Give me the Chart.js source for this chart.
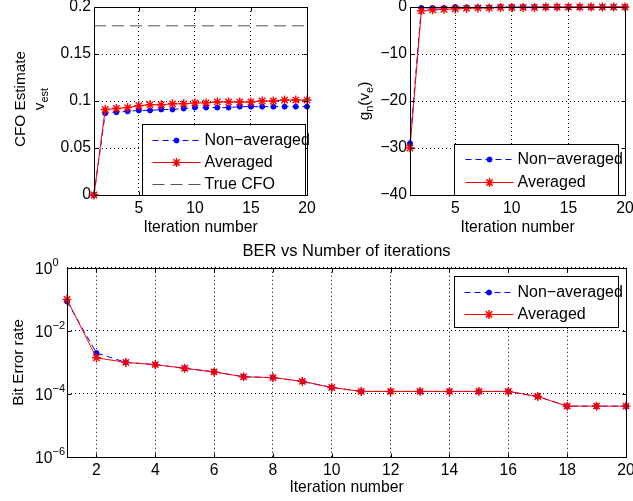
<!DOCTYPE html>
<html>
<head>
<meta charset="utf-8">
<script src="https://cdn.jsdelivr.net/npm/chart.js@4.4.0/dist/chart.umd.min.js"></script>
<style>
  html, body { margin: 0; padding: 0; background: #fff; overflow: hidden; }
  #fig { position: relative; width: 633px; height: 501px; overflow: hidden; background: #fff; }
  canvas { position: absolute; }
</style>
</head>
<body>
<div id="fig">
  <canvas id="cfo" width="320" height="260" style="left:0;top:-20px"></canvas>
  <canvas id="gn" width="340" height="260" style="left:320px;top:-20px"></canvas>
  <canvas id="ber" width="660" height="271" style="left:0;top:230px"></canvas>
</div>
<script>
// data
const iterations = [1, 2, 3, 4, 5, 6, 7, 8, 9, 10, 11, 12, 13, 14, 15, 16, 17, 18, 19, 20];

const cfoNonAvg = [0, 0.087, 0.088, 0.089, 0.090, 0.090, 0.091, 0.091, 0.092, 0.093,
                   0.093, 0.093, 0.093, 0.094, 0.094, 0.094, 0.094, 0.094, 0.094, 0.094];
const cfoAvg    = [0, 0.091, 0.092, 0.093, 0.095, 0.096, 0.096, 0.097, 0.097, 0.098,
                   0.098, 0.099, 0.099, 0.099, 0.099, 0.100, 0.100, 0.101, 0.101, 0.101];
const trueCfoX = [1, 20];
const trueCfoY = [0.18, 0.18];

const gNonAvg = [-29, -0.2, -0.2, -0.2, 0, -0.1, -0.1, -0.1, 0, 0,
                 0, 0, 0, 0, 0, 0, 0, 0, 0, 0];
const gAvg    = [-30, -0.8, -0.6, -0.5, -0.4, -0.3, -0.2, -0.2, -0.1, -0.1,
                 -0.1, -0.1, 0, 0, 0, 0, 0, 0, 0, 0];

const berNonAvg = [0.085, 2.0e-3, 1.0e-3, 8.5e-4, 6.5e-4, 5.0e-4, 3.5e-4, 3.3e-4, 2.5e-4, 1.6e-4,
                   1.2e-4, 1.2e-4, 1.2e-4, 1.2e-4, 1.2e-4, 1.2e-4, 8.3e-5, 4.1e-5, 4.1e-5, 4.1e-5];
const berAvg    = [0.1, 1.4e-3, 1.0e-3, 8.5e-4, 6.5e-4, 5.0e-4, 3.5e-4, 3.3e-4, 2.5e-4, 1.6e-4,
                   1.2e-4, 1.2e-4, 1.2e-4, 1.2e-4, 1.2e-4, 1.2e-4, 8.3e-5, 4.1e-5, 4.1e-5, 4.1e-5];

const xTicksTop = [5, 10, 15, 20];
const xTicksBer = [2, 4, 6, 8, 10, 12, 14, 16, 18, 20];
const yTicksCfo = [0, 0.05, 0.1, 0.15, 0.2];
const yTicksGn = [-40, -30, -20, -10, 0];
const yTicksBer = [1e-6, 1e-4, 1e-2, 1];

const FONT = "'Liberation Sans', Arial, Helvetica, sans-serif";
Chart.defaults.font.family = FONT;
Chart.defaults.font.size = 15.7;
Chart.defaults.color = '#000';
Chart.defaults.animation = false;

function pts(xs, ys) {
  return ys.map((y, i) => ({ x: xs[i], y: y }));
}

function blueSet(ys) {
  return {
    label: 'Non\u2212averaged', data: pts(iterations, ys),
    borderColor: '#0000ff', backgroundColor: '#0000ff', borderWidth: 1, borderDash: [6, 4],
    pointStyle: 'circle', pointRadius: 2.5, pointBorderWidth: 1, tension: 0, clip: false, order: 2
  };
}
function redSet(ys) {
  return {
    label: 'Averaged', data: pts(iterations, ys),
    borderColor: '#ff0000', backgroundColor: '#ff0000', borderWidth: 1,
    pointStyle: 'star', pointRadius: 4.5, pointBorderWidth: 1.4, tension: 0, clip: false, order: 1
  };
}

function xAxis(tickVals, h, padBottom) {
  return {
    type: 'linear', min: 1, max: 20,
    afterBuildTicks: s => { s.ticks = tickVals.map(v => ({ value: v })); },
    afterFit: s => { s.height = h; },
    grid: { color: '#000', lineWidth: 1, drawTicks: false },
    border: { display: false, dash: [1, 3] },
    ticks: { padding: 4, maxRotation: 0, autoSkip: false },
    title: { display: true, text: 'Iteration number', padding: { top: 0, bottom: padBottom } }
  };
}

// draws the text pieces of a rotated y label, with subscripts
function drawRich(ctx, parts, x, y, size) {
  ctx.save();
  ctx.translate(x, y);
  ctx.rotate(-Math.PI / 2);
  ctx.fillStyle = '#000';
  ctx.textBaseline = 'middle';
  ctx.textAlign = 'left';
  let w = 0;
  parts.forEach(p => {
    ctx.font = (p[1] ? size * 0.72 : size) + 'px ' + FONT;
    w += ctx.measureText(p[0]).width;
  });
  let cx = -w / 2;
  parts.forEach(p => {
    ctx.font = (p[1] ? size * 0.72 : size) + 'px ' + FONT;
    ctx.fillText(p[0], cx, p[1] ? size * 0.32 : 0);
    cx += ctx.measureText(p[0]).width;
  });
  ctx.restore();
}

// matlab look: box, inner ticks, ylabel, log labels, legend
const matlabPlugin = {
  id: 'matlab',
  afterDraw(chart, args, opts) {
    const ctx = chart.ctx;
    const ca = chart.chartArea;
    const L = Math.round(ca.left) + 0.5, R = Math.round(ca.right) + 0.5;
    const T = Math.round(ca.top) + 0.5, B = Math.round(ca.bottom) + 0.5;
    const xs = chart.scales.x, ys = chart.scales.y;
    ctx.save();
    ctx.strokeStyle = '#000';
    ctx.lineWidth = 1;
    ctx.setLineDash([]);
    ctx.beginPath();
    xs.ticks.forEach(t => {
      const px = Math.round(xs.getPixelForValue(t.value)) + 0.5;
      ctx.moveTo(px, B); ctx.lineTo(px, B - 4);
      ctx.moveTo(px, T); ctx.lineTo(px, T + 4);
    });
    ys.ticks.forEach(t => {
      const py = Math.round(ys.getPixelForValue(t.value)) + 0.5;
      ctx.moveTo(L, py); ctx.lineTo(L + 4, py);
      ctx.moveTo(R, py); ctx.lineTo(R - 4, py);
    });
    ctx.stroke();
    ctx.strokeRect(L, T, R - L, B - T);

    // y label lines
    const midY = (ca.top + ca.bottom) / 2;
    (opts.ylabel || []).forEach(line => {
      drawRich(ctx, line.parts, ca.left + line.dx, midY + (line.dy || 0), 15.3);
    });

    // 10^n labels on log axis
    if (opts.logLabels) {
      const big = '15.7px ' + FONT, small = '11px ' + FONT;
      ctx.font = big;
      const w10 = ctx.measureText('10').width;
      ctx.font = small;
      const wExp = ctx.measureText('\u22126').width;
      ys.ticks.forEach(t => {
        const py = ys.getPixelForValue(t.value);
        const e = Math.round(Math.log10(t.value));
        const x0 = ca.left - 2 - w10 - wExp;
        ctx.fillStyle = '#000';
        ctx.textBaseline = 'middle';
        ctx.textAlign = 'left';
        ctx.font = big;
        ctx.fillText('10', x0, py + 2);
        ctx.font = small;
        ctx.fillText(e < 0 ? '\u2212' + (-e) : String(e), x0 + w10, py - 5);
      });
    }

    // legend box
    const lg = opts.legend;
    if (lg) {
      const bx = Math.round(ca.left + lg.x) + 0.5, by = Math.round(ca.top + lg.y) + 0.5;
      ctx.fillStyle = '#fff';
      ctx.fillRect(bx, by, lg.w, lg.h);
      ctx.strokeStyle = '#000';
      ctx.strokeRect(bx, by, lg.w, lg.h);
      lg.rows.forEach((ry, i) => {
        const ds = chart.data.datasets[i];
        const y = by + ry;
        ctx.strokeStyle = ds.borderColor;
        ctx.lineWidth = 1;
        ctx.setLineDash(ds.borderDash || []);
        ctx.beginPath();
        ctx.moveTo(bx + lg.x1, y);
        ctx.lineTo(bx + lg.x2, y);
        ctx.stroke();
        ctx.setLineDash([]);
        if (ds.pointRadius > 0) {
          ctx.fillStyle = ds.backgroundColor;
          ctx.lineWidth = ds.pointBorderWidth;
          Chart.helpers.drawPoint(ctx, { pointStyle: ds.pointStyle, radius: ds.pointRadius, borderWidth: ds.pointBorderWidth, rotation: 0 },
            bx + (lg.x1 + lg.x2) / 2, y);
        }
        ctx.fillStyle = '#000';
        ctx.font = '16px ' + FONT;
        ctx.textBaseline = 'middle';
        ctx.textAlign = 'left';
        ctx.fillText(ds.label, bx + lg.tx, y);
      });
    }
    ctx.restore();
  }
};

// CFO estimate
new Chart(document.getElementById('cfo').getContext('2d'), {
  type: 'line',
  data: {
    datasets: [
      blueSet(cfoNonAvg),
      redSet(cfoAvg),
      {
        label: 'True CFO', data: pts(trueCfoX, trueCfoY),
        borderColor: '#555555', borderWidth: 1, borderDash: [12, 6], pointRadius: 0, order: 3
      }
    ]
  },
  options: {
    responsive: false,
    layout: { padding: { top: 27, right: 13, left: 0, bottom: 0 } },
    scales: {
      x: xAxis(xTicksTop, 45, 3),
      y: {
        type: 'linear', min: 0, max: 0.2,
        afterBuildTicks: s => { s.ticks = yTicksCfo.map(v => ({ value: v })); },
        afterFit: s => { s.width = 94; },
        grid: { color: '#000', lineWidth: 1, drawTicks: false },
        border: { display: false, dash: [1, 3] },
        ticks: { padding: 3, callback: v => String(v) }
      }
    },
    plugins: {
      legend: { display: false },
      tooltip: { enabled: false },
      matlab: {
        ylabel: [
          { parts: [['CFO Estimate', 0]], dx: -73, dy: -2 },
          { parts: [['v', 0], ['est', 1]], dx: -54, dy: -2 }
        ],
        legend: { x: 48, y: 117, w: 163, h: 71, rows: [16, 38, 60], x1: 10, x2: 58, tx: 62 }
      }
    }
  },
  plugins: [matlabPlugin]
});

// g_n(v_e)
new Chart(document.getElementById('gn').getContext('2d'), {
  type: 'line',
  data: { datasets: [blueSet(gNonAvg), redSet(gAvg)] },
  options: {
    responsive: false,
    layout: { padding: { top: 27, right: 35, left: 0, bottom: 0 } },
    scales: {
      x: xAxis(xTicksTop, 45, 3),
      y: {
        type: 'linear', min: -40, max: 0,
        afterBuildTicks: s => { s.ticks = yTicksGn.map(v => ({ value: v })); },
        afterFit: s => { s.width = 90; },
        grid: { color: '#000', lineWidth: 1, drawTicks: false },
        border: { display: false, dash: [1, 3] },
        ticks: { padding: 3, callback: v => v < 0 ? '\u2212' + (-v) : String(v) }
      }
    },
    plugins: {
      legend: { display: false },
      tooltip: { enabled: false },
      matlab: {
        ylabel: [{ parts: [['g', 0], ['n', 1], ['(v', 0], ['e', 1], [')', 0]], dx: -45 }],
        legend: { x: 44, y: 137, w: 164, h: 51, rows: [15, 38], x1: 11, x2: 59, tx: 63 }
      }
    }
  },
  plugins: [matlabPlugin]
});

// BER
new Chart(document.getElementById('ber').getContext('2d'), {
  type: 'line',
  data: { datasets: [blueSet(berNonAvg), redSet(berAvg)] },
  options: {
    responsive: false,
    layout: { padding: { top: 0, right: 34, left: 0, bottom: 0 } },
    scales: {
      x: xAxis(xTicksBer, 44, 4),
      y: {
        type: 'logarithmic', min: 1e-6, max: 1,
        afterBuildTicks: s => { s.ticks = yTicksBer.map(v => ({ value: v })); },
        afterFit: s => { s.width = 67; },
        grid: { color: '#000', lineWidth: 1, drawTicks: false },
        border: { display: false, dash: [1, 3] },
        ticks: { display: false }
      }
    },
    plugins: {
      legend: { display: false },
      tooltip: { enabled: false },
      title: {
        display: true, text: 'BER vs Number of iterations', fullSize: false,
        font: { size: 16.5, weight: 'normal' }, padding: { top: 12, bottom: 6 }
      },
      matlab: {
        ylabel: [{ parts: [['Bit Error rate', 0]], dx: -48 }],
        logLabels: true,
        legend: { x: 387, y: 8, w: 164, h: 51, rows: [16, 38], x1: 10, x2: 59, tx: 63 }
      }
    }
  },
  plugins: [matlabPlugin]
});
</script>
</body>
</html>
